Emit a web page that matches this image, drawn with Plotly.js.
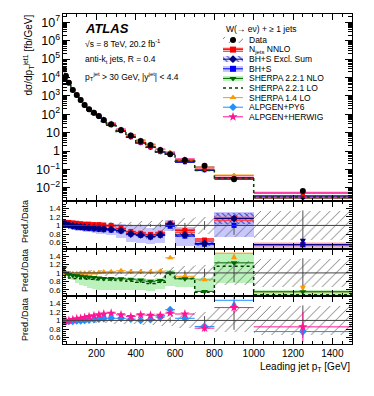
<!DOCTYPE html>
<html>
<head>
<meta charset="utf-8">
<script src="https://cdn.plot.ly/plotly-3.0.1.min.js"></script>
<style>
  html, body { margin: 0; padding: 0; background: #fff; }
  #grafica { width: 374px; height: 396px; }
</style>
</head>
<body>
<div id="grafica"></div>
<script>
// leading jet pT bins [GeV]
const ptEdges = [30, 40, 50, 70, 90, 110, 130, 150, 175, 200, 225, 250, 300, 350, 400, 450, 500, 550, 600, 700, 800, 1000, 1500];

// measured cross section [fb/GeV] and relative uncertainties
const dataXsec = [28200, 12000, 5250, 2090, 1120, 603, 324, 186, 123, 81, 49, 28.8, 14.1, 7.1, 3.55, 2.14, 1.15, 0.68, 0.33, 0.162, 0.0295, 0.0068];
const dataTotErr = [0.05, 0.05, 0.05, 0.05, 0.05, 0.05, 0.05, 0.06, 0.06, 0.07, 0.07, 0.08, 0.08, 0.09, 0.10, 0.10, 0.12, 0.13, 0.17, 0.20, 0.28, 0.33];
const dataStatErr = [0.005, 0.005, 0.005, 0.005, 0.005, 0.005, 0.006, 0.006, 0.007, 0.008, 0.01, 0.01, 0.015, 0.02, 0.025, 0.03, 0.04, 0.05, 0.06, 0.1, 0.22, 0.35];

// Pred./Data, panel 1
const nnloRatio = [1.05, 1.07, 1.07, 1.06, 1.05, 1.04, 1.03, 1.03, 1.02, 1.02, 1.01, 1.00, 0.93, 0.86, 0.82, 0.79, 0.82, 1.05, 0.88, 0.66, 1.16, 0.55];
const nnloErr = [0.04, 0.03, 0.03, 0.03, 0.03, 0.03, 0.03, 0.03, 0.03, 0.03, 0.03, 0.03, 0.04, 0.04, 0.04, 0.04, 0.05, 0.05, 0.05, 0.05, 0.06, 0.06];
const bhsRatio = [1.03, 1.02, 1.00, 0.98, 0.96, 0.95, 0.94, 0.93, 0.92, 0.91, 0.90, 0.89, 0.87, 0.80, 0.77, 0.73, 0.77, 0.98, 0.75, 0.56, 1.00, 0.52];
const bhsLo = [0.98, 0.96, 0.93, 0.90, 0.88, 0.86, 0.85, 0.84, 0.82, 0.80, 0.79, 0.77, 0.70, 0.62, 0.60, 0.56, 0.58, 0.88, 0.53, 0.45, 0.73, 0.45];
const bhsHi = [1.07, 1.07, 1.06, 1.05, 1.04, 1.04, 1.04, 1.04, 1.03, 1.03, 1.03, 1.03, 1.03, 1.00, 0.98, 0.95, 0.98, 1.12, 0.96, 0.69, 1.31, 0.60];
const exclRatio = [1.04, 1.03, 1.01, 0.99, 0.98, 0.97, 0.96, 0.95, 0.94, 0.93, 0.92, 0.91, 0.88, 0.80, 0.78, 0.74, 0.78, 1.03, 0.78, 0.58, 1.16, 0.42];
const exclErr = [0.03, 0.03, 0.03, 0.03, 0.03, 0.03, 0.03, 0.04, 0.04, 0.04, 0.04, 0.04, 0.05, 0.05, 0.05, 0.05, 0.06, 0.06, 0.06, 0.06, 0.12, 0.05];

// Pred./Data, panel 2
const nloRatio = [1.12, 1.00, 0.96, 0.94, 0.93, 0.92, 0.91, 0.90, 0.89, 0.88, 0.87, 0.87, 0.86, 0.85, 0.83, 0.80, 0.82, 1.00, 0.86, 0.56, 1.24, 0.55];
const nloLo = [1.05, 0.93, 0.88, 0.82, 0.76, 0.72, 0.68, 0.64, 0.62, 0.60, 0.60, 0.60, 0.60, 0.60, 0.60, 0.58, 0.62, 0.68, 0.66, 0.55, 0.77, 0.45];
const nloHi = [1.16, 1.03, 1.00, 0.97, 0.96, 0.95, 0.94, 0.93, 0.92, 0.91, 0.90, 0.90, 0.90, 0.89, 0.88, 0.85, 0.88, 1.06, 0.90, 0.89, 1.47, 0.60];
const loRatio = [1.05, 0.90, 0.88, 0.87, 0.87, 0.86, 0.86, 0.85, 0.85, 0.84, 0.84, 0.83, 0.82, 0.80, 0.78, 0.75, 0.78, 1.00, 0.87, 0.54, 1.16, 0.48];
const sh14Ratio = [0.98, 1.00, 0.98, 0.98, 0.98, 0.99, 0.99, 1.00, 1.00, 1.01, 1.02, 1.03, 1.05, 1.03, 1.03, 1.02, 1.04, 1.36, 0.92, 0.84, 1.70, 0.40];

// Pred./Data, panel 3
const py6Ratio = [0.97, 0.97, 0.98, 0.98, 0.99, 0.99, 1.00, 1.01, 1.02, 1.03, 1.04, 1.05, 1.05, 1.03, 1.00, 1.02, 1.08, 1.25, 1.05, 0.86, 1.60, 0.74];
const py6Err = [0.01, 0.01, 0.01, 0.01, 0.01, 0.01, 0.01, 0.01, 0.01, 0.01, 0.01, 0.01, 0.02, 0.02, 0.02, 0.03, 0.03, 0.04, 0.04, 0.06, 0.1, 0.15];
const herwigRatio = [0.98, 0.99, 1.00, 1.02, 1.04, 1.05, 1.07, 1.09, 1.11, 1.13, 1.15, 1.17, 1.13, 1.09, 1.13, 1.12, 1.12, 1.17, 1.15, 0.82, 1.30, 0.85];
const herwigErr = [0.01, 0.01, 0.01, 0.01, 0.01, 0.01, 0.01, 0.01, 0.01, 0.01, 0.02, 0.02, 0.02, 0.02, 0.03, 0.03, 0.04, 0.04, 0.05, 0.08, 0.12, 0.35];

const legendNames = ['Data', 'N<sub>jets</sub> NNLO', 'BH+S Excl. Sum', 'BH+S', 'SHERPA 2.2.1 NLO',
                     'SHERPA 2.2.1 LO', 'SHERPA 1.4 LO', 'ALPGEN+PY6', 'ALPGEN+HERWIG'];

const FONT = 'Liberation Sans, Arial, Helvetica, sans-serif';
const RMIN = 0.45, RMAX = 1.57;

const centers = ptEdges.slice(0, -1).map((e, i) => (e + ptEdges[i + 1]) / 2);
const halfW = ptEdges.slice(0, -1).map((e, i) => (ptEdges[i + 1] - e) / 2);
const widths = halfW.map(h => 2 * h);

const col = {
    nnlo: '#ff0000', bhs: '#0000ff', excl: '#00007f', nlo: '#006400',
    lo: '#004000', sh14: '#ff9900', py6: '#1e90ff', herwig: '#ff1493'
};

const hatchData = { shape: '/', size: 7, solidity: 0.12, fgcolor: '#666666', bgcolor: 'rgba(0,0,0,0)' };
const hatchExcl = { shape: '\\', size: 4, solidity: 0.25, fgcolor: '#3333cc', bgcolor: 'rgba(120,120,255,0.15)' };
const hatchNnlo = { shape: '-', size: 3, solidity: 0.3, fgcolor: '#ff4040', bgcolor: 'rgba(255,120,120,0.35)' };

function band(lo, hi, ax, color, pattern) {
    return {
        type: 'bar', x: centers, base: lo, y: hi.map((h, i) => h - lo[i]), width: widths,
        xaxis: 'x' + ax, yaxis: 'y' + ax, hoverinfo: 'skip', showlegend: false,
        marker: { color: color, line: { width: 0 }, pattern: pattern }
    };
}

function ratioPoints(vals, errs, ax, color, symbol, size) {
    const y = vals.map(v => Math.min(Math.max(v, 0.55), 1.47));
    const sym = vals.map(v => v > RMAX - 0.05 ? 'arrow-up' : (v < RMIN + 0.03 ? 'arrow-down' : symbol));
    return {
        type: 'scatter', mode: 'markers', x: centers, y: y, xaxis: 'x' + ax, yaxis: 'y' + ax,
        showlegend: false, hoverinfo: 'skip',
        marker: { color: color, symbol: sym, size: size },
        error_x: { type: 'data', array: halfW, thickness: 1, width: 0, color: color },
        error_y: errs ? { type: 'data', array: errs, thickness: 1, width: 0, color: color } : { visible: false }
    };
}

function stepLine(vals, ax, color, dash, width) {
    return {
        type: 'scatter', mode: 'lines', x: ptEdges, y: vals.concat([vals[vals.length - 1]]),
        xaxis: 'x' + ax, yaxis: 'y' + ax, line: { shape: 'hv', color: color, dash: dash, width: width },
        showlegend: false, hoverinfo: 'skip'
    };
}

function mainPoints(ratio, color, symbol) {
    return {
        type: 'scatter', mode: 'markers', x: centers, y: dataXsec.map((d, i) => d * ratio[i]),
        xaxis: 'x', yaxis: 'y', showlegend: false, hoverinfo: 'skip',
        marker: { color: color, symbol: symbol, size: 4 },
        error_x: { type: 'data', array: halfW, thickness: 1, width: 0, color: color }
    };
}

const dataLo = dataTotErr.map(e => 1 - e);
const dataHi = dataTotErr.map(e => 1 + e);
const ones = dataXsec.map(d => d / d);

function dataRatio(ax) {
    return {
        type: 'scatter', mode: 'markers', x: centers, y: ones, xaxis: 'x' + ax, yaxis: 'y' + ax,
        marker: { size: 1, color: '#555' }, showlegend: false, hoverinfo: 'skip',
        error_y: { type: 'data', array: dataStatErr, thickness: 1, width: 0, color: '#555' }
    };
}

const traces = [
    // main panel
    mainPoints(py6Ratio, col.py6, 'diamond'),
    mainPoints(herwigRatio, col.herwig, 'star'),
    mainPoints(sh14Ratio, col.sh14, 'triangle-up'),
    mainPoints(nloRatio, col.nlo, 'triangle-down'),
    mainPoints(bhsRatio, col.bhs, 'square'),
    mainPoints(exclRatio, col.excl, 'diamond'),
    mainPoints(nnloRatio, col.nnlo, 'square'),
    {
        type: 'scatter', mode: 'lines', x: ptEdges,
        y: dataXsec.map((d, i) => d * loRatio[i]).concat([dataXsec[dataXsec.length - 1] * loRatio[loRatio.length - 1]]),
        xaxis: 'x', yaxis: 'y', line: { shape: 'hv', color: col.lo, dash: 'dot', width: 1.5 },
        showlegend: false, hoverinfo: 'skip'
    },
    {
        type: 'scatter', mode: 'markers', x: centers, y: dataXsec, xaxis: 'x', yaxis: 'y',
        marker: { color: '#000', size: 6 }, showlegend: false, hoverinfo: 'skip'
    },

    // panel 1
    band(bhsLo, bhsHi, 2, 'rgba(130,130,250,0.45)'),
    band(dataLo, dataHi, 2, '#666666', hatchData),
    band(exclRatio.map((v, i) => v - exclErr[i]), exclRatio.map((v, i) => v + exclErr[i]), 2, '#3333cc', hatchExcl),
    band(nnloRatio.map((v, i) => v - nnloErr[i]), nnloRatio.map((v, i) => v + nnloErr[i]), 2, '#ff4040', hatchNnlo),
    dataRatio(2),
    ratioPoints(nnloRatio, null, 2, col.nnlo, 'square', 5),
    ratioPoints(bhsRatio, null, 2, col.bhs, 'square', 5),
    ratioPoints(exclRatio, null, 2, col.excl, 'diamond', 6),

    // panel 2
    band(nloLo, nloHi, 3, 'rgba(120,230,120,0.5)'),
    band(dataLo, dataHi, 3, '#666666', hatchData),
    dataRatio(3),
    stepLine(loRatio, 3, col.lo, 'dot', 1.5),
    ratioPoints(sh14Ratio, null, 3, col.sh14, 'triangle-up', 6),
    ratioPoints(nloRatio, null, 3, col.nlo, 'triangle-down', 6),

    // panel 3
    band(dataLo, dataHi, 4, '#666666', hatchData),
    dataRatio(4),
    ratioPoints(py6Ratio, py6Err, 4, col.py6, 'diamond', 6),
    ratioPoints(herwigRatio, herwigErr, 4, col.herwig, 'star', 7)
];

// legend drawn on its own invisible axes (x5/y5), one row per entry
const legX0 = 223, legX1 = 243, legXm = 233;
const legY = legendNames.map((n, i) => 40 + 9.6 * i);
const legendStyle = [
    { band: ['#666666', hatchData], line: null, sym: 'circle', color: '#000' },
    { band: ['#ff4040', hatchNnlo], line: col.nnlo, sym: 'square', color: col.nnlo },
    { band: ['#3333cc', hatchExcl], line: col.excl, sym: 'diamond', color: col.excl },
    { band: ['rgba(130,130,250,0.45)', null], line: col.bhs, sym: 'square', color: col.bhs },
    { band: ['rgba(120,230,120,0.5)', null], line: col.nlo, sym: 'triangle-down', color: col.nlo },
    { band: null, line: col.lo, dash: 'dot', sym: null },
    { band: null, line: col.sh14, sym: 'triangle-up', color: col.sh14 },
    { band: null, line: col.py6, sym: 'diamond', color: col.py6 },
    { band: null, line: col.herwig, sym: 'star', color: col.herwig }
];
legendStyle.forEach((s, i) => {
    const y = legY[i];
    if (s.band) {
        traces.push({
            type: 'bar', x: [legXm], base: [y - 2.8], y: [5.6], width: [legX1 - legX0],
            xaxis: 'x5', yaxis: 'y5', hoverinfo: 'skip', showlegend: false,
            marker: { color: s.band[0], line: { width: 0 }, pattern: s.band[1] || undefined }
        });
    }
    if (s.line) {
        traces.push({
            type: 'scatter', mode: 'lines', x: [legX0, legX1], y: [y, y], xaxis: 'x5', yaxis: 'y5',
            line: { color: s.line, width: s.dash ? 1.5 : 1, dash: s.dash || 'solid' },
            hoverinfo: 'skip', showlegend: false
        });
    }
    if (s.sym) {
        traces.push({
            type: 'scatter', mode: 'markers', x: [legXm], y: [y], xaxis: 'x5', yaxis: 'y5',
            marker: { color: s.color, symbol: s.sym, size: s.sym === 'star' ? 7 : 6 },
            hoverinfo: 'skip', showlegend: false
        });
    }
});

const W = 374, H = 396, ML = 63, MR = 22, MT = 14, MB = 52;
const pw = W - ML - MR, ph = H - MT - MB;
const px = v => (v - ML) / pw;
const py = v => (H - MB - v) / ph;

const tickFont = { family: FONT, size: 10, color: '#000' };
const ratioTickFont = { family: FONT, size: 8, color: '#000' };

function xAxis(anchor, labels) {
    return {
        anchor: anchor, domain: [0, 1], range: [30, 1500], dtick: 200, tick0: 0,
        ticks: 'inside', ticklen: 6, tickcolor: '#000', mirror: 'allticks', showline: true,
        linecolor: '#000', linewidth: 1, showgrid: false, zeroline: false,
        showticklabels: labels, tickfont: tickFont,
        minor: { dtick: 50, ticks: 'inside', ticklen: 3, tickcolor: '#000', showgrid: false }
    };
}
function rAxis(anchor, top, bottom) {
    return {
        anchor: anchor, domain: [py(bottom), py(top)], range: [RMIN, RMAX], dtick: 0.2, tick0: 0,
        ticks: 'inside', ticklen: 6, tickcolor: '#000', mirror: 'allticks', showline: true,
        linecolor: '#000', linewidth: 1, showgrid: false, zeroline: false, tickfont: ratioTickFont,
        minor: { dtick: 0.05, ticks: 'inside', ticklen: 3, tickcolor: '#000', showgrid: false }
    };
}

const ann = (text, x, y, opts) => Object.assign({
    text: text, x: x, y: y, xref: 'paper', yref: 'paper', showarrow: false,
    xanchor: 'left', yanchor: 'middle', font: { family: FONT, size: 8.5, color: '#000' }
}, opts || {});

const layout = {
    width: W, height: H,
    margin: { l: ML, r: MR, t: MT, b: MB },
    paper_bgcolor: '#fff', plot_bgcolor: 'rgba(0,0,0,0)',
    barmode: 'overlay', bargap: 0, showlegend: false,
    font: { family: FONT, size: 10, color: '#000' },
    xaxis: xAxis('y', false),
    xaxis2: xAxis('y2', false),
    xaxis3: xAxis('y3', false),
    xaxis4: xAxis('y4', true),
    yaxis: {
        anchor: 'x', domain: [py(201), 1], type: 'log', range: [-2.71, 7.45], dtick: 1,
        exponentformat: 'power', ticks: 'inside', ticklen: 7, tickcolor: '#000',
        mirror: 'allticks', showline: true, linecolor: '#000', linewidth: 1,
        showgrid: false, zeroline: false, tickfont: tickFont,
        minor: { dtick: 'D1', ticks: 'inside', ticklen: 4, tickcolor: '#000', showgrid: false }
    },
    yaxis2: rAxis('x2', 201, 249),
    yaxis3: rAxis('x3', 249, 296),
    yaxis4: rAxis('x4', 296, 344),
    xaxis5: { domain: [px(220), 1], range: [220, 352], visible: false, fixedrange: true, anchor: 'y5' },
    yaxis5: { domain: [py(124), py(32)], range: [124, 32], visible: false, fixedrange: true, anchor: 'x5' },
    shapes: [2, 3, 4].map(a => ({
        type: 'line', xref: 'x' + a + ' domain', x0: 0, x1: 1, yref: 'y' + a, y0: 1, y1: 1,
        line: { color: '#444', width: 1 }
    })),
    annotations: [
        ann('ATLAS', px(83), py(28), { font: { family: FONT, size: 13, weight: 'bold', style: 'italic', color: '#000' } }),
        ann('√s = 8 TeV, 20.2 fb<sup>-1</sup>', px(83), py(43)),
        ann('anti-k<sub>t</sub> jets, R = 0.4', px(83), py(59.5)),
        ann('p<sub>T</sub><sup>jet</sup> > 30 GeV, |y<sup>jet</sup>| < 4.4', px(83), py(76)),
        ann('W(→ eν) + ≥ 1 jets', px(224), py(29)),
        ann('dσ/dp<sub>T</sub><sup>jet1</sup> [fb/GeV]', px(28), py(13),
            { xanchor: 'center', yanchor: 'top', textangle: -90, font: { family: FONT, size: 10, color: '#000' } }),
        ann('Pred./Data', px(25), py(222), { xanchor: 'center', textangle: -90, font: { family: FONT, size: 9, color: '#000' } }),
        ann('Pred./Data', px(25), py(271), { xanchor: 'center', textangle: -90, font: { family: FONT, size: 9, color: '#000' } }),
        ann('Pred./Data', px(25), py(320), { xanchor: 'center', textangle: -90, font: { family: FONT, size: 9, color: '#000' } }),
        ann('Leading jet p<sub>T</sub> [GeV]', 1, py(367), { xanchor: 'right', font: { family: FONT, size: 10, color: '#000' } })
    ].concat(legendNames.map((n, i) => ({
        text: n, x: 247, y: legY[i], xref: 'x5', yref: 'y5', showarrow: false,
        xanchor: 'left', yanchor: 'middle', font: { family: FONT, size: 8.5, color: '#000' }
    })))
};

Plotly.newPlot('grafica', traces, layout, { staticPlot: true, displayModeBar: false });
</script>
</body>
</html>
